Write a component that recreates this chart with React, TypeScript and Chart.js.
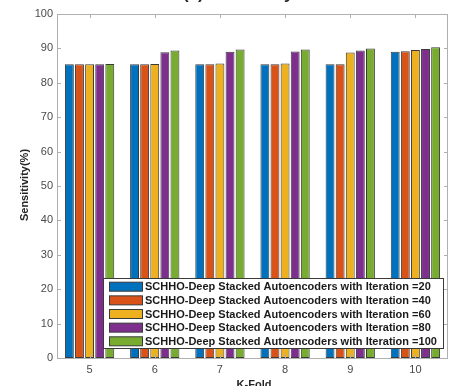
import React, { useEffect, useRef } from "react";
import { Chart, registerables } from "chart.js";

Chart.register(...registerables);

const folds = ["5", "6", "7", "8", "9", "10"];
const iter20 = [85.4, 85.4, 85.4, 85.4, 85.4, 89.0];
const iter40 = [85.4, 85.4, 85.4, 85.4, 85.4, 89.2];
const iter60 = [85.4, 85.5, 85.6, 85.6, 88.8, 89.5];
const iter80 = [85.4, 88.9, 89.0, 89.1, 89.4, 89.8];
const iter100 = [85.5, 89.4, 89.7, 89.7, 90.0, 90.3];

const seriesNames = [
  "SCHHO-Deep Stacked Autoencoders with Iteration =20",
  "SCHHO-Deep Stacked Autoencoders with Iteration =40",
  "SCHHO-Deep Stacked Autoencoders with Iteration =60",
  "SCHHO-Deep Stacked Autoencoders with Iteration =80",
  "SCHHO-Deep Stacked Autoencoders with Iteration =100",
];
const seriesColors = ["#0072BD", "#D95319", "#EDB120", "#7E2F8E", "#77AC30"];
const yTicks = [0, 10, 20, 30, 40, 50, 60, 70, 80, 90, 100];

const FONT = "'Liberation Sans', Arial, Helvetica, sans-serif";
const AXIS_COLOR = "#b0b0b0";

// Axes box with inward tick marks, titles and the boxed legend
const decorations = {
  id: "decorations",
  afterDatasetsDraw(chart: any) {
    const { ctx, chartArea: a, scales } = chart;
    ctx.save();
    ctx.strokeStyle = AXIS_COLOR;
    ctx.lineWidth = 1;
    ctx.strokeRect(a.left + 0.5, a.top + 0.5, a.right - a.left - 1, a.bottom - a.top);
    ctx.beginPath();
    yTicks.forEach((v) => {
      const y = Math.round(scales.y.getPixelForValue(v)) + 0.5;
      ctx.moveTo(a.left, y);
      ctx.lineTo(a.left + 4, y);
      ctx.moveTo(a.right, y);
      ctx.lineTo(a.right - 4, y);
    });
    folds.forEach((_, i) => {
      const x = Math.round(scales.x.getPixelForValue(i)) + 0.5;
      ctx.moveTo(x, a.top);
      ctx.lineTo(x, a.top + 4);
      ctx.moveTo(x, a.bottom);
      ctx.lineTo(x, a.bottom - 4);
    });
    ctx.stroke();
    ctx.restore();
  },
  afterDraw(chart: any) {
    const { ctx } = chart;
    ctx.save();
    // title, mostly above the visible area
    ctx.fillStyle = "#262626";
    ctx.font = `bold 17px ${FONT}`;
    ctx.textAlign = "left";
    ctx.textBaseline = "alphabetic";
    ctx.fillText("(a) Sensitivity", 183, -1);

    // axis titles
    ctx.font = `bold 11px ${FONT}`;
    ctx.textAlign = "center";
    ctx.fillText("K-Fold", 254, 388);
    ctx.save();
    ctx.translate(25, 185);
    ctx.rotate(-Math.PI / 2);
    ctx.textBaseline = "middle";
    ctx.fillText("Sensitivity(%)", 0, 0);
    ctx.restore();

    // legend
    const lx = 103, ly = 278, lw = 340, lh = 70;
    ctx.fillStyle = "#ffffff";
    ctx.fillRect(lx, ly, lw, lh);
    ctx.strokeStyle = "#3a3a3a";
    ctx.lineWidth = 1;
    ctx.strokeRect(lx + 0.5, ly + 0.5, lw, lh);
    ctx.font = `bold 11px ${FONT}`;
    ctx.textAlign = "left";
    ctx.textBaseline = "middle";
    seriesNames.forEach((name, i) => {
      const cy = 286.7 + i * 13.65;
      ctx.fillStyle = seriesColors[i];
      ctx.fillRect(109, cy - 4.5, 33, 9);
      ctx.strokeStyle = "#3a3a3a";
      ctx.strokeRect(109.5, cy - 4.5, 33, 9);
      ctx.fillStyle = "#1a1a1a";
      ctx.fillText(name, 145, cy + 0.5);
    });
    ctx.restore();
  },
};

export default function App() {
  const canvasRef = useRef<HTMLCanvasElement | null>(null);

  useEffect(() => {
    if (!canvasRef.current) return;
    const values = [iter20, iter40, iter60, iter80, iter100];
    const chart = new Chart(canvasRef.current, {
      type: "bar",
      data: {
        labels: folds,
        datasets: values.map((d, i) => ({
          label: seriesNames[i],
          data: d,
          backgroundColor: seriesColors[i],
          borderColor: "#3a3a3a",
          borderWidth: 1,
          borderSkipped: false,
          categoryPercentage: 0.775,
          barPercentage: 0.88,
        })),
      },
      options: {
        animation: false,
        responsive: true,
        maintainAspectRatio: false,
        layout: { padding: { top: 14, left: 0, right: 2, bottom: 0 } },
        plugins: {
          legend: { display: false },
          tooltip: { enabled: false },
          title: { display: false },
        },
        scales: {
          x: {
            grid: { display: false, drawTicks: false },
            border: { display: false },
            ticks: {
              color: "#4a4a4a",
              font: { family: FONT, size: 11 },
              padding: 5,
            },
            afterFit(axis: any) {
              axis.height = 28;
            },
          },
          y: {
            min: 0,
            max: 100,
            grid: { display: false, drawTicks: false },
            border: { display: false },
            ticks: {
              stepSize: 10,
              color: "#4a4a4a",
              font: { family: FONT, size: 11 },
              padding: 4,
            },
            afterFit(axis: any) {
              axis.width = 57;
            },
          },
        },
      },
      plugins: [decorations],
    });
    return () => chart.destroy();
  }, []);

  return (
    <div style={{ position: "fixed", left: 0, top: 0, width: 450, height: 386, background: "#fff" }}>
      <canvas ref={canvasRef} />
    </div>
  );
}
